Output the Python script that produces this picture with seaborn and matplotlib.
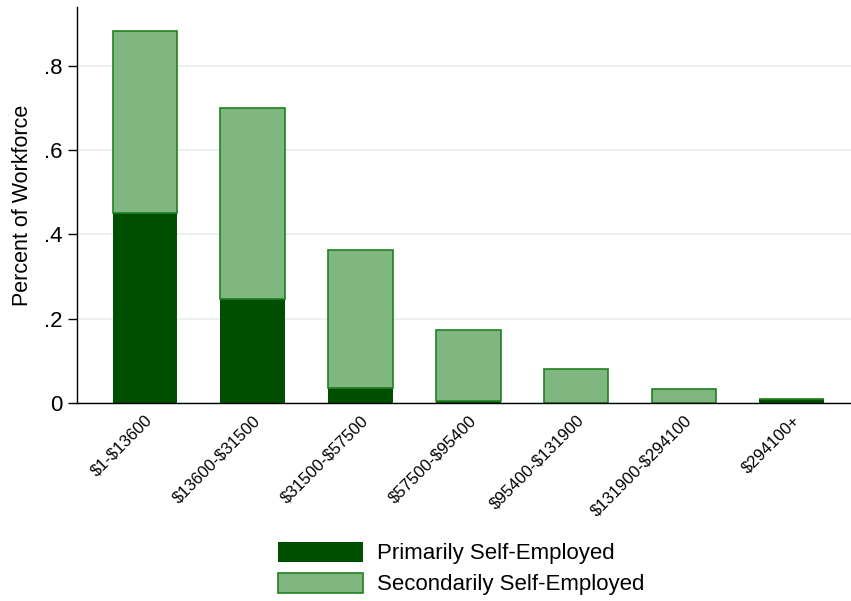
import pandas as pd
import numpy as np
import matplotlib
matplotlib.use("Agg")
import matplotlib.pyplot as plt
import seaborn as sns
from matplotlib.patches import Patch

# income brackets and shares of the workforce
brackets = ["$1-$13600", "$13600-$31500", "$31500-$57500", "$57500-$95400",
            "$95400-$131900", "$131900-$294100", "$294100+"]
primary = [0.452, 0.246, 0.036, 0.005, 0.001, 0.001, 0.009]
secondary = [0.432, 0.454, 0.326, 0.168, 0.079, 0.032, 0.0]

df = pd.DataFrame({"bracket": brackets, "primary": primary, "secondary": secondary})

dark = "#004f00"
light = "#80b680"
edge = "#1f801f"

sns.set_style("white")
plt.rcParams["font.family"] = ["Liberation Sans", "DejaVu Sans"]
plt.rcParams["text.parse_math"] = False
for k in ["text.color", "axes.labelcolor", "xtick.color", "ytick.color"]:
    plt.rcParams[k] = "black"

fig = plt.figure(figsize=(8.51, 6.01), dpi=100)
ax = fig.add_axes([0.0905, 0.3295, 0.9095, 0.659])

sns.barplot(data=df, x="bracket", y="primary", order=brackets, color=dark,
            width=0.6, linewidth=0, saturation=1, ax=ax, zorder=2)
sns.barplot(data=df, x="bracket", y="secondary", order=brackets, color=light,
            width=0.6, bottom=df["primary"], edgecolor=edge, linewidth=1.2,
            saturation=1, ax=ax, zorder=2)

ax.set_xlim(-0.63, 6.55)
ax.set_ylim(0, 0.94)
ax.set_yticks([0, 0.2, 0.4, 0.6, 0.8])
ax.set_yticklabels(["0", ".2", ".4", ".6", ".8"], fontsize=16)
ax.yaxis.grid(True, color="#e6edf1", linewidth=1.2, zorder=0)
ax.set_axisbelow(True)
ax.set_ylabel("Percent of Workforce", fontsize=15.5, labelpad=8)
ax.set_xlabel("")
ax.set_xticks(range(len(brackets)))
ax.set_xticklabels(brackets, rotation=45, ha="right", rotation_mode="anchor", fontsize=12)
ax.tick_params(axis="x", length=0, pad=7)
ax.tick_params(axis="y", length=6.5, width=1, color="black", left=True, pad=4)

for s in ["top", "right"]:
    ax.spines[s].set_visible(False)
for s in ["left", "bottom"]:
    ax.spines[s].set_color("black")
    ax.spines[s].set_linewidth(1)

handles = [Patch(facecolor=dark, edgecolor=dark, linewidth=0),
           Patch(facecolor=light, edgecolor=edge, linewidth=1.2)]
fig.legend(handles, ["Primarily Self-Employed", "Secondarily Self-Employed"],
           loc="center", bbox_to_anchor=(0.542, 0.054), frameon=False,
           fontsize=16, handlelength=3.8, handleheight=1.0,
           handletextpad=0.63, labelspacing=0.38, borderpad=0)

fig.savefig("out.png", dpi=100)
